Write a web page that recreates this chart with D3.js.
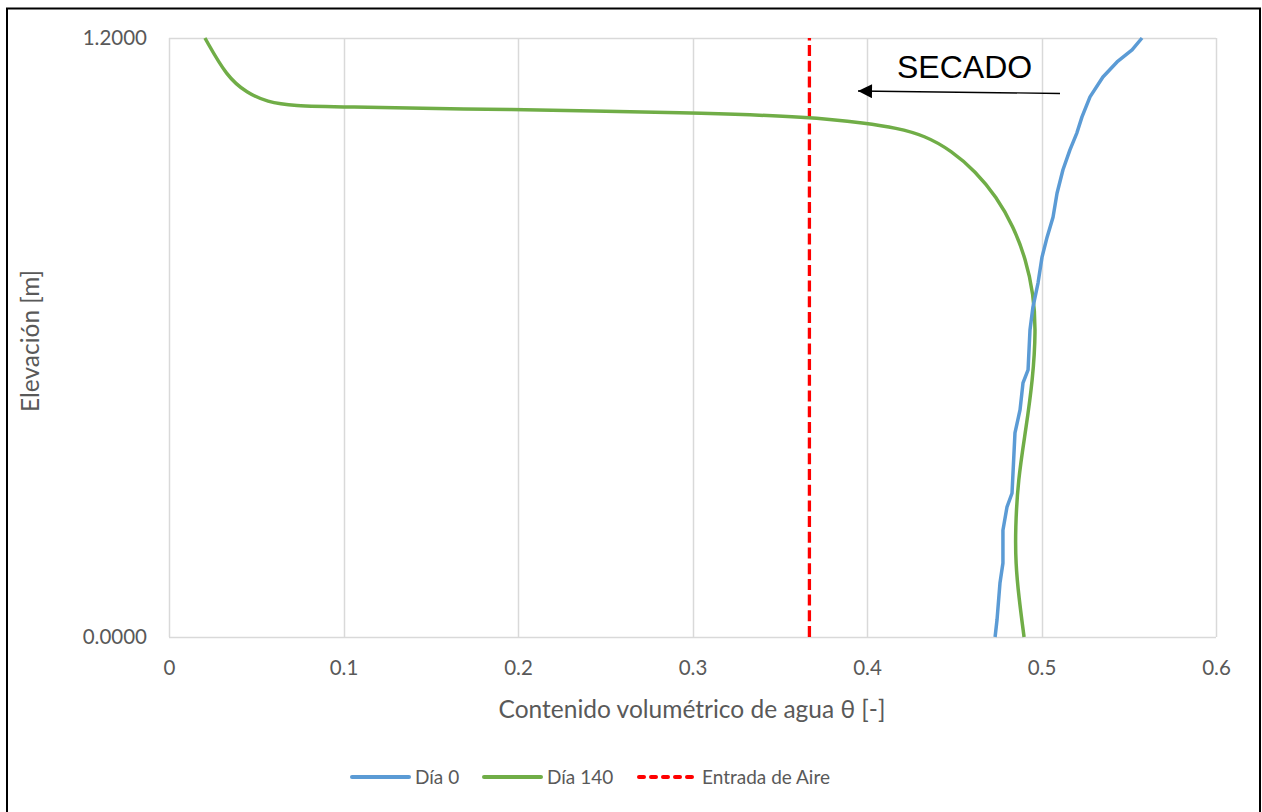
<!DOCTYPE html>
<html><head><meta charset="utf-8">
<script src="https://cdn.jsdelivr.net/npm/d3@7"></script>
<style>html,body{margin:0;padding:0;background:#fff;}svg{display:block;}</style>
</head><body>
<script>
// ---- data ----
const xTicks = [0, 0.1, 0.2, 0.3, 0.4, 0.5, 0.6];
const yTicks = [0, 1.2];
const airEntry = 0.367;
// Día 0 (theta, elevation)
const dia0Theta = [0.4734,0.4745,0.4762,0.4779,0.4779,0.4802,0.4831,0.4848,0.4877,0.4894,0.4923,0.4934,0.4951,0.4980,0.5003,0.5032,0.5066,0.5089,0.5123,0.5163,0.5203,0.5232,0.5278,0.5352,0.5433,0.5519,0.5576];
const dia0Elev  = [0,0.034,0.108,0.148,0.214,0.260,0.288,0.409,0.455,0.509,0.535,0.615,0.661,0.709,0.761,0.801,0.841,0.889,0.936,0.976,1.010,1.042,1.082,1.122,1.152,1.176,1.2];
// Día 140
const dia140Theta = [0.490,0.487,0.4852,0.485,0.4865,0.491,0.495,0.4968,0.4954,0.4910,0.4839,0.4742,0.4622,0.4484,0.4331,0.4165,0.400,0.367,0.304,0.247,0.1668,0.0997,0.0711,0.0562,0.0447,0.0332,0.0206];
const dia140Elev  = [0,0.080,0.148,0.214,0.315,0.415,0.515,0.615,0.6869,0.7569,0.8224,0.8817,0.9327,0.9742,1.0047,1.020,1.029,1.042,1.050,1.054,1.058,1.062,1.064,1.072,1.090,1.122,1.2];
const legendLabels = ["Día 0", "Día 140", "Entrada de Aire"];
const colors = ["#5b9bd5", "#70ad47", "#ff0000"];

// ---- chart ----
const W = 1262, H = 812;
const svg = d3.select("body").append("svg").attr("width", W).attr("height", H);
const FONT = "Lato, 'Open Sans', sans-serif";
svg.append("rect").attr("x",0).attr("y",0).attr("width",W).attr("height",H).attr("fill","#fff");
// outer border
svg.append("rect").attr("x",7).attr("y",8.5).attr("width",1253).attr("height",H+10)
  .attr("fill","none").attr("stroke","#000").attr("stroke-width",2);

const x = d3.scaleLinear().domain([0,0.6]).range([169,1216]);
const y = d3.scaleLinear().domain([0,1.2]).range([637,38]);

// grid
const g = svg.append("g");
g.selectAll("line.v").data(xTicks).join("line")
  .attr("x1",d=>Math.round(x(d))+0.5).attr("x2",d=>Math.round(x(d))+0.5)
  .attr("y1",y(1.2)).attr("y2",y(0)).attr("stroke","#d9d9d9").attr("stroke-width",1.5);
g.selectAll("line.h").data(yTicks).join("line")
  .attr("x1",x(0)).attr("x2",x(0.6))
  .attr("y1",d=>Math.round(y(d))+0.5).attr("y2",d=>Math.round(y(d))+0.5)
  .attr("stroke","#d9d9d9").attr("stroke-width",1.5);

// axes via d3
const xAxis = d3.axisBottom(x).tickValues(xTicks).tickSize(0).tickPadding(23)
  .tickFormat(d=>d===0?"0":d3.format(".1f")(d));
const gx = svg.append("g").attr("transform",`translate(0,${y(0)})`).call(xAxis);
gx.select(".domain").remove();
gx.selectAll("text").attr("font-family",FONT).attr("font-size",20.5).attr("fill","#595959");

const yAxis = d3.axisLeft(y).tickValues(yTicks).tickSize(0).tickPadding(22).tickFormat(d3.format(".4f"));
const gy = svg.append("g").attr("transform",`translate(${x(0)},0)`).call(yAxis);
gy.select(".domain").remove();
gy.selectAll("text").attr("font-family",FONT).attr("font-size",20.5).attr("fill","#595959");

// titles
svg.append("text").attr("x",692).attr("y",718).attr("text-anchor","middle")
  .attr("font-family",FONT).attr("font-size",24.5).attr("fill","#595959")
  .text("Contenido volumétrico de agua θ [-]");
svg.append("text").attr("transform","translate(39,341) rotate(-90)").attr("text-anchor","middle")
  .attr("font-family",FONT).attr("font-size",24.5).attr("fill","#595959")
  .text("Elevación [m]");

// lines
const line = d3.line().x(d=>x(d[0])).y(d=>y(d[1]));
const line140 = d3.line().x(d=>x(d[0])).y(d=>y(d[1])).curve(d3.curveBasis);
const d0 = dia0Theta.map((t,i)=>[t,dia0Elev[i]]);
const d140 = dia140Theta.map((t,i)=>[t,dia140Elev[i]]);
svg.append("path").datum([[airEntry,0],[airEntry,1.2]]).attr("d",line)
  .attr("fill","none").attr("stroke",colors[2]).attr("stroke-width",3.3).attr("stroke-dasharray","11,4.7");
svg.append("path").datum(d140).attr("d",line140).attr("fill","none")
  .attr("stroke",colors[1]).attr("stroke-width",3.5).attr("stroke-linejoin","round");
svg.append("path").datum(d0).attr("d",line).attr("fill","none")
  .attr("stroke",colors[0]).attr("stroke-width",3.5).attr("stroke-linejoin","round");

// annotation
const defs = svg.append("defs");
defs.append("marker").attr("id","ah").attr("viewBox","0 0 10 10").attr("refX",10).attr("refY",5)
  .attr("markerWidth",17).attr("markerHeight",14).attr("markerUnits","userSpaceOnUse").attr("orient","auto")
  .append("path").attr("d","M0,0 L10,5 L0,10 Z").attr("fill","#000");
svg.append("line").attr("x1",1060).attr("y1",93.5).attr("x2",858).attr("y2",91)
  .attr("stroke","#000").attr("stroke-width",1.3).attr("marker-end","url(#ah)");
svg.append("text").attr("x",897).attr("y",78).attr("font-family","'Liberation Sans', Arial, sans-serif")
  .attr("font-size",32).attr("fill","#000").text("SECADO");

// legend
const legX = [352, 484, 639];
const lg = svg.append("g");
legendLabels.forEach((lab,i)=>{
  lg.append("line").attr("x1",legX[i]).attr("x2",legX[i]+57).attr("y1",777).attr("y2",777)
    .attr("stroke",colors[i]).attr("stroke-width",4)
    .attr("stroke-linecap", "round")
    .attr("stroke-dasharray", i===2 ? "5,7" : null);
  lg.append("text").attr("x",legX[i]+63).attr("y",777).attr("dy","0.35em")
    .attr("font-family",FONT).attr("font-size",19).attr("fill","#595959").text(lab);
});
</script>
</body></html>
